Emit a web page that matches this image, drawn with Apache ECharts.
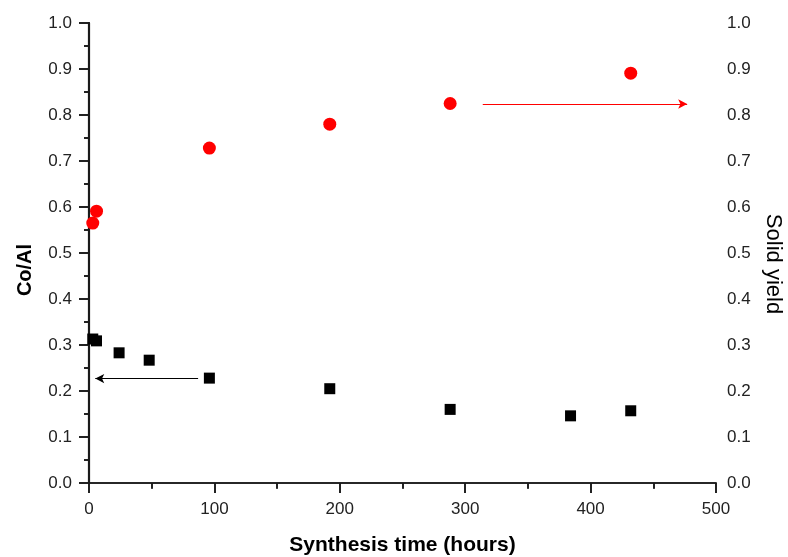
<!DOCTYPE html>
<html>
<head>
<meta charset="utf-8">
<script src="https://cdn.jsdelivr.net/npm/echarts@6/dist/echarts.min.js"></script>
<style>html,body{margin:0;padding:0;background:#fff}#c{width:788px;height:557px}</style>
</head>
<body>
<div id="c"></div>
<script>
// Co/Al ratio (left axis)
var coAlHours = [3, 6, 24, 48, 96, 192, 288, 384, 432];
var coAlValues = [0.313, 0.309, 0.283, 0.267, 0.228, 0.205, 0.160, 0.146, 0.157];
// Solid yield (right axis)
var yieldHours = [3, 6, 96, 192, 288, 432];
var yieldValues = [0.565, 0.591, 0.728, 0.780, 0.825, 0.891];
// Arrows: [x start, x end, y]
var blackArrow = [87, 5, 0.227];
var redArrow = [314, 477, 0.824];

var xTitle = 'Synthesis time (hours)';
var yLeftTitle = 'Co/Al';
var yRightTitle = 'Solid yield';

function pairs(xs, ys) { return xs.map(function (x, i) { return [x, ys[i]]; }); }

var font = 'Liberation Sans, Arial, sans-serif';
var axisCol = '#1a1a1a';
var lineStyle = { color: axisCol, width: 1.6 };

var chart = echarts.init(document.getElementById('c'), null, { renderer: 'canvas' });
chart.setOption({
  animation: false,
  backgroundColor: '#fff',
  grid: { left: 89, right: 72, top: 23, bottom: 74, containLabel: false, outerBoundsMode: 'none' },
  xAxis: [{
    type: 'value', position: 'bottom', min: 0, max: 500, interval: 100,
    name: xTitle, nameLocation: 'middle', nameGap: 52, nameMoveOverlap: false,
    nameTextStyle: { fontFamily: font, fontSize: 21, fontWeight: 'bold', color: '#000', verticalAlign: 'top' },
    axisLine: { show: true, lineStyle: lineStyle },
    axisTick: { show: true, inside: false, length: 10, lineStyle: { color: axisCol, width: 1.6 } },
    minorTick: { show: true, splitNumber: 2, length: 6, lineStyle: { color: axisCol, width: 1.6 } },
    axisLabel: { fontFamily: font, fontSize: 17, color: '#222', margin: 18 },
    splitLine: { show: false }, minorSplitLine: { show: false }
  }, {
    type: 'value', position: 'top', min: 0, max: 500, interval: 100,
    axisLine: { show: true, lineStyle: lineStyle },
    axisTick: { show: true, inside: true, length: 10, lineStyle: { color: axisCol, width: 1.6 } },
    minorTick: { show: true, splitNumber: 2, length: 5, lineStyle: { color: axisCol, width: 1.6 } },
    axisLabel: { show: false },
    splitLine: { show: false }
  }],
  yAxis: [{
    type: 'value', position: 'left', min: 0, max: 1, interval: 0.1,
    name: yLeftTitle, nameLocation: 'middle', nameGap: 54, nameRotate: 90, nameMoveOverlap: false,
    nameTextStyle: { fontFamily: font, fontSize: 20, fontWeight: 'bold', color: '#000', padding: [0, 34, 0, 0] },
    axisLine: { show: true, lineStyle: { color: axisCol, width: 2.2 } },
    axisTick: { show: true, inside: false, length: 10, lineStyle: { color: axisCol, width: 1.6 } },
    minorTick: { show: true, splitNumber: 2, length: 5, lineStyle: { color: axisCol, width: 1.6 } },
    axisLabel: { fontFamily: font, fontSize: 17, color: '#222', margin: 17, formatter: function (v) { return v.toFixed(1); } },
    splitLine: { show: false }
  }, {
    type: 'value', position: 'right', min: 0, max: 1, interval: 0.1,
    name: yRightTitle, nameLocation: 'middle', nameGap: 46, nameRotate: -90, nameMoveOverlap: false,
    nameTextStyle: { fontFamily: font, fontSize: 22, color: '#000', padding: [0, 0, 0, 22] },
    axisLine: { show: true, lineStyle: { color: axisCol, width: 2 } },
    axisTick: { show: true, inside: true, length: 10, lineStyle: { color: axisCol, width: 1.6 } },
    minorTick: { show: true, splitNumber: 2, length: 5, lineStyle: { color: axisCol, width: 1.6 } },
    axisLabel: { fontFamily: font, fontSize: 17, color: '#222', margin: 11, formatter: function (v) { return v.toFixed(1); } },
    splitLine: { show: false }
  }],
  series: [{
    name: yLeftTitle, type: 'scatter', xAxisIndex: 0, yAxisIndex: 0,
    symbol: 'rect', symbolSize: 11,
    itemStyle: { color: '#000', opacity: 1 },
    data: pairs(coAlHours, coAlValues),
    markLine: {
      silent: true, animation: false,
      symbol: ['none', 'arrow'], symbolSize: [7, 9],
      label: { show: false },
      lineStyle: { color: '#000', width: 1.2, type: 'solid', opacity: 1 },
      data: [[{ coord: [blackArrow[0], blackArrow[2]] }, { coord: [blackArrow[1], blackArrow[2]] }]]
    }
  }, {
    name: yRightTitle, type: 'scatter', xAxisIndex: 0, yAxisIndex: 1,
    symbol: 'circle', symbolSize: 13,
    itemStyle: { color: '#ff0000', opacity: 1 },
    data: pairs(yieldHours, yieldValues),
    markLine: {
      silent: true, animation: false,
      symbol: ['none', 'arrow'], symbolSize: [7, 9],
      label: { show: false },
      lineStyle: { color: '#ff0000', width: 1.2, type: 'solid', opacity: 1 },
      data: [[{ coord: [redArrow[0], redArrow[2]] }, { coord: [redArrow[1], redArrow[2]] }]]
    }
  }]
});
</script>
</body>
</html>
